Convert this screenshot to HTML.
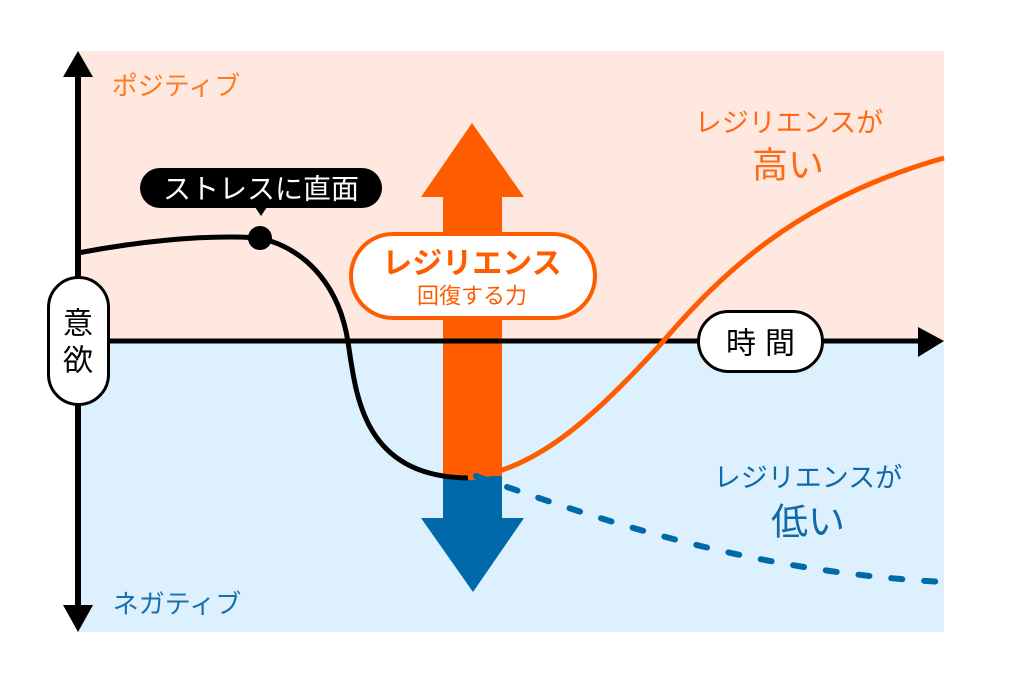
<!DOCTYPE html>
<html>
<head>
<meta charset="utf-8">
<style>
html,body{margin:0;padding:0;background:#fff;}
svg{display:block;}
text{font-family:"Liberation Sans","Noto Sans CJK JP",sans-serif;}
</style>
</head>
<body>
<svg width="1024" height="683" viewBox="0 0 1024 683" xmlns="http://www.w3.org/2000/svg">
  <!-- backgrounds -->
  <rect x="78" y="51" width="866" height="290" fill="#ffe8e0"/>
  <rect x="78" y="341" width="866" height="291" fill="#dcf0fd"/>

  <!-- big vertical arrow -->
  <polygon points="472,123 524,197 502,197 502,478 443,478 443,197 421,197" fill="#ff5c00"/>
  <polygon points="443,476 502,476 502,518 524,518 473,592 421,518 443,518" fill="#0069aa"/>

  <!-- horizontal axis -->
  <line x1="78" y1="341" x2="920" y2="341" stroke="#000" stroke-width="5"/>
  <polygon points="918,327 944,341 918,357" fill="#000"/>

  <!-- vertical axis -->
  <line x1="78" y1="70" x2="78" y2="612" stroke="#000" stroke-width="6"/>
  <polygon points="78,51 93,77 63,77" fill="#000"/>
  <polygon points="63,605 93,605 78,632" fill="#000"/>

  <!-- black curve -->
  <path d="M78,253 C130,243 200,234 260,238 C310,250 340,290 348,342 C356,394 362,478 470,478" fill="none" stroke="#000" stroke-width="5"/>
  <circle cx="260" cy="238" r="12" fill="#000"/>

  <!-- orange curve -->
  <path d="M468,478 C540,470 600,410 660,345 C720,275 795,200 944,158" fill="none" stroke="#ff5c00" stroke-width="5"/>

  <!-- dashed blue curve -->
  <path d="M476,476 C600,520 750,572 944,582" fill="none" stroke="#0069aa" stroke-width="6" stroke-linecap="round" stroke-dasharray="11 22"/>

  <!-- labels -->
  <text x="176" y="86" font-size="26" fill="#ff7a1f" text-anchor="middle" dominant-baseline="central">ポジティブ</text>
  <text x="177" y="604" font-size="26" fill="#1a6fae" text-anchor="middle" dominant-baseline="central">ネガティブ</text>

  <!-- stress bubble -->
  <rect x="140" y="168" width="242" height="40" rx="20" fill="#000"/>
  <polygon points="255,207 267,207 261,216" fill="#000"/>
  <text x="261" y="189" font-size="28" fill="#fff" text-anchor="middle" dominant-baseline="central">ストレスに直面</text>

  <!-- 意欲 pill -->
  <rect x="48.5" y="277.5" width="60" height="127" rx="30" fill="#fff" stroke="#000" stroke-width="3"/>
  <text x="78" y="324" font-size="30" fill="#000" text-anchor="middle" dominant-baseline="central">意</text>
  <text x="78" y="361" font-size="30" fill="#000" text-anchor="middle" dominant-baseline="central">欲</text>

  <!-- resilience pill -->
  <rect x="351" y="234" width="244" height="84" rx="42" fill="#fff" stroke="#ff5c00" stroke-width="4"/>
  <text x="472" y="264" font-size="30" font-weight="bold" fill="#ff5c00" text-anchor="middle" dominant-baseline="central">レジリエンス</text>
  <text x="472" y="296" font-size="22" fill="#ff5c00" text-anchor="middle" dominant-baseline="central">回復する力</text>

  <!-- 時間 pill -->
  <rect x="698.5" y="311.5" width="124" height="60" rx="30" fill="#fff" stroke="#000" stroke-width="3"/>
  <text x="741" y="344" font-size="30" fill="#000" text-anchor="middle" dominant-baseline="central">時</text>
  <text x="780" y="344" font-size="30" fill="#000" text-anchor="middle" dominant-baseline="central">間</text>

  <!-- high resilience -->
  <text x="789" y="123" font-size="27" fill="#ff6a14" text-anchor="middle" dominant-baseline="central">レジリエンスが</text>
  <text x="788" y="165" font-size="36" fill="#ff6a14" text-anchor="middle" dominant-baseline="central">高い</text>

  <!-- low resilience -->
  <text x="808" y="478" font-size="27" fill="#0f69aa" text-anchor="middle" dominant-baseline="central">レジリエンスが</text>
  <text x="808" y="522" font-size="37" fill="#0f69aa" text-anchor="middle" dominant-baseline="central">低い</text>
</svg>
</body>
</html>
